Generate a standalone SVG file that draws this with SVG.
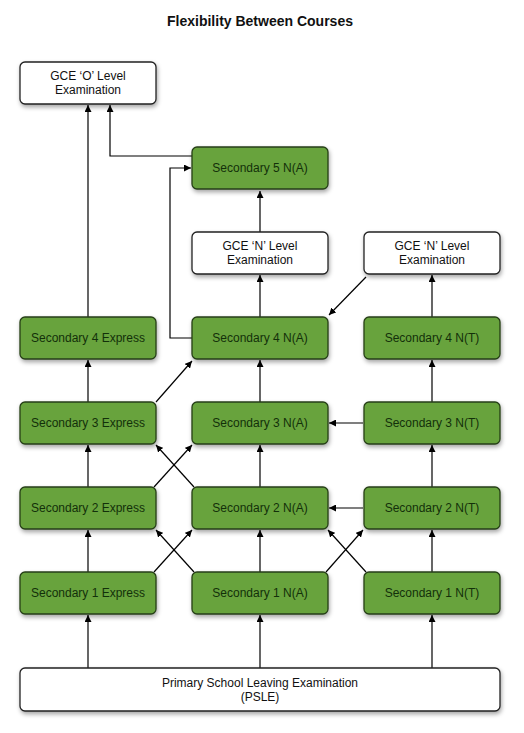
<svg xmlns="http://www.w3.org/2000/svg" width="524" height="733" viewBox="0 0 524 733">
<defs>
<filter id="sh" x="-10%" y="-20%" width="125%" height="160%">
<feDropShadow dx="1" dy="2.5" stdDeviation="2" flood-color="#000" flood-opacity="0.35"/>
</filter>
<marker id="ah" viewBox="0 0 10 10" refX="10" refY="5" markerWidth="7" markerHeight="7" markerUnits="userSpaceOnUse" orient="auto">
<path d="M0,0 L10,5 L0,10 z" fill="#000"/>
</marker>
</defs>
<style>
.g{fill:#67a33c;stroke:#263f18;stroke-width:1.3}
.w{fill:#fff;stroke:#222;stroke-width:1.3}
.t{font-family:"Liberation Sans",Arial,sans-serif;font-size:12px;text-anchor:middle}
.tg{fill:#13300a}
.tw{fill:#111}
.c{fill:none;stroke:#000;stroke-width:1.2;marker-end:url(#ah)}
</style>
<rect width="524" height="733" fill="#fff"/>
<text x="260" y="26" font-family="'Liberation Sans',Arial,sans-serif" font-size="14px" font-weight="bold" text-anchor="middle" fill="#111">Flexibility Between Courses</text>

<g id="connectors">
<path class="c" d="M88,317 L88,105"/>
<path class="c" d="M192,156 L110,156 L110,105"/>
<path class="c" d="M192,338 L170,338 L170,168 L191,168"/>
<path class="c" d="M260,232 L260,191"/>
<path class="c" d="M260,317 L260,275"/>
<path class="c" d="M366,277 L329,315"/>
<path class="c" d="M432,317 L432,275"/>
<path class="c" d="M88,402 L88,360"/>
<path class="c" d="M156,402 L192,361"/>
<path class="c" d="M260,402 L260,360"/>
<path class="c" d="M432,402 L432,360"/>
<path class="c" d="M363,423 L329,423"/>
<path class="c" d="M88,487 L88,445"/>
<path class="c" d="M154,487 L192,445"/>
<path class="c" d="M194,487 L156,445"/>
<path class="c" d="M260,487 L260,445"/>
<path class="c" d="M432,487 L432,445"/>
<path class="c" d="M363,508 L329,508"/>
<path class="c" d="M88,572 L88,530"/>
<path class="c" d="M154,572 L192,530"/>
<path class="c" d="M194,572 L156,530"/>
<path class="c" d="M260,572 L260,530"/>
<path class="c" d="M326,572 L363,530"/>
<path class="c" d="M366,572 L328,530"/>
<path class="c" d="M432,572 L432,530"/>
<path class="c" d="M88,668 L88,615"/>
<path class="c" d="M260,668 L260,615"/>
<path class="c" d="M432,668 L432,615"/>
</g>

<g id="gce-o"><rect class="w" filter="url(#sh)" x="20" y="62" width="136" height="42" rx="5"/><text class="t tw" x="88" y="80">GCE ‘O’ Level</text><text class="t tw" x="88" y="94">Examination</text></g>
<g id="sec5na"><rect class="g" filter="url(#sh)" x="192" y="147" width="136" height="42" rx="5"/><text class="t tg" x="260" y="172">Secondary 5 N(A)</text></g>
<g id="gce-n-a"><rect class="w" filter="url(#sh)" x="192" y="232" width="136" height="42" rx="5"/><text class="t tw" x="260" y="250">GCE ‘N’ Level</text><text class="t tw" x="260" y="264">Examination</text></g>
<g id="gce-n-t"><rect class="w" filter="url(#sh)" x="364" y="232" width="136" height="42" rx="5"/><text class="t tw" x="432" y="250">GCE ‘N’ Level</text><text class="t tw" x="432" y="264">Examination</text></g>

<g id="sec4e"><rect class="g" filter="url(#sh)" x="20" y="317" width="136" height="42" rx="5"/><text class="t tg" x="88" y="342">Secondary 4 Express</text></g>
<g id="sec4na"><rect class="g" filter="url(#sh)" x="192" y="317" width="136" height="42" rx="5"/><text class="t tg" x="260" y="342">Secondary 4 N(A)</text></g>
<g id="sec4nt"><rect class="g" filter="url(#sh)" x="364" y="317" width="136" height="42" rx="5"/><text class="t tg" x="432" y="342">Secondary 4 N(T)</text></g>

<g id="sec3e"><rect class="g" filter="url(#sh)" x="20" y="402" width="136" height="42" rx="5"/><text class="t tg" x="88" y="427">Secondary 3 Express</text></g>
<g id="sec3na"><rect class="g" filter="url(#sh)" x="192" y="402" width="136" height="42" rx="5"/><text class="t tg" x="260" y="427">Secondary 3 N(A)</text></g>
<g id="sec3nt"><rect class="g" filter="url(#sh)" x="364" y="402" width="136" height="42" rx="5"/><text class="t tg" x="432" y="427">Secondary 3 N(T)</text></g>

<g id="sec2e"><rect class="g" filter="url(#sh)" x="20" y="487" width="136" height="42" rx="5"/><text class="t tg" x="88" y="512">Secondary 2 Express</text></g>
<g id="sec2na"><rect class="g" filter="url(#sh)" x="192" y="487" width="136" height="42" rx="5"/><text class="t tg" x="260" y="512">Secondary 2 N(A)</text></g>
<g id="sec2nt"><rect class="g" filter="url(#sh)" x="364" y="487" width="136" height="42" rx="5"/><text class="t tg" x="432" y="512">Secondary 2 N(T)</text></g>

<g id="sec1e"><rect class="g" filter="url(#sh)" x="20" y="572" width="136" height="42" rx="5"/><text class="t tg" x="88" y="597">Secondary 1 Express</text></g>
<g id="sec1na"><rect class="g" filter="url(#sh)" x="192" y="572" width="136" height="42" rx="5"/><text class="t tg" x="260" y="597">Secondary 1 N(A)</text></g>
<g id="sec1nt"><rect class="g" filter="url(#sh)" x="364" y="572" width="136" height="42" rx="5"/><text class="t tg" x="432" y="597">Secondary 1 N(T)</text></g>

<g id="psle"><rect class="w" filter="url(#sh)" x="20" y="668" width="480" height="43" rx="5"/><text class="t tw" x="260" y="687">Primary School Leaving Examination</text><text class="t tw" x="260" y="701">(PSLE)</text></g>
</svg>
